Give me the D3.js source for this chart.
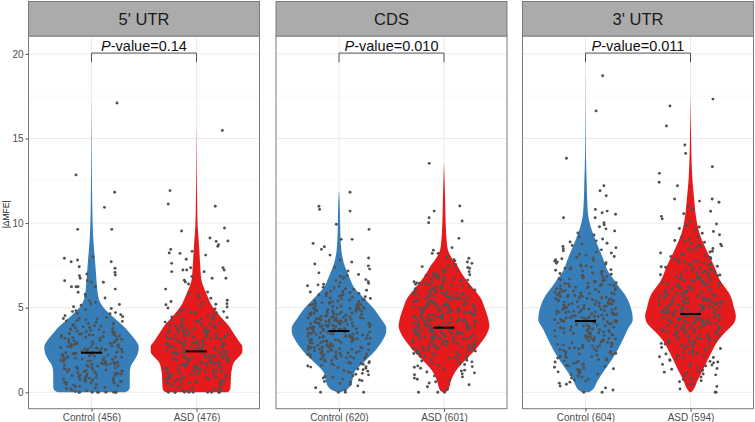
<!DOCTYPE html>
<html>
<head>
<meta charset="utf-8">
<script src="https://cdn.jsdelivr.net/npm/d3@7"></script>
<style>
  body { margin: 0; background: #fff; }
  svg { display: block; font-family: "Liberation Sans", Arial, Helvetica, sans-serif; }
</style>
</head>
<body>
<svg id="chart" width="755" height="422"></svg>
<script>
// facets and groups
const regions = ["5' UTR", 'CDS', "3' UTR"]
const groupLabels = [
  ['Control (456)', 'ASD (476)'],
  ['Control (620)', 'ASD (601)'],
  ['Control (604)', 'ASD (594)']
]
const pValues = ['0.14', '0.010', '0.011']
const medians = [[2.34, 2.42], [3.62, 3.82], [4.21, 4.63]]
const yTicks = [0, 5, 10, 15, 20]

// violin outlines: [|dMFE|, relative density]
const densCtrl5 = [[0,0.72],[0.1,0.78],[0.3,0.81],[1.2,0.81],[1.6,0.84],[2.0,0.93],[2.4,0.99],[2.7,1.0],[3.0,0.95],[3.3,0.87],[3.6,0.78],[3.9,0.68],[4.2,0.56],[4.5,0.44],[4.8,0.32],[5.1,0.23],[5.4,0.17],[5.8,0.135],[6.3,0.115],[6.8,0.1],[7.4,0.085],[8.0,0.068],[8.6,0.05],[9.5,0.03],[10.5,0.02],[12,0.012],[13.5,0.007],[15,0.004],[17.1,0.001]]
const densAsd5 = [[0,0.66],[0.1,0.7],[0.3,0.72],[1.0,0.73],[1.4,0.75],[1.8,0.8],[2.1,0.9],[2.4,0.97],[2.7,0.97],[3.0,0.9],[3.3,0.83],[3.6,0.76],[3.9,0.69],[4.2,0.6],[4.5,0.5],[4.8,0.41],[5.1,0.33],[5.5,0.26],[5.9,0.2],[6.3,0.14],[6.7,0.1],[7.2,0.085],[8.0,0.068],[8.6,0.055],[9.2,0.04],[9.8,0.025],[11,0.015],[12.5,0.008],[14,0.004],[15.5,0.001]]
const densCtrlCds = [[0,0.04],[0.1,0.13],[0.3,0.22],[0.6,0.27],[0.9,0.3],[1.2,0.33],[1.5,0.42],[1.9,0.57],[2.5,0.78],[3.1,0.93],[3.6,1.0],[3.8,1.0],[4.3,0.9],[5.0,0.72],[5.5,0.55],[5.8,0.45],[6.2,0.32],[6.6,0.25],[7.0,0.19],[7.4,0.13],[7.9,0.08],[8.4,0.05],[9.5,0.028],[10.4,0.022],[11.2,0.014],[11.86,0.003]]
const densAsdCds = [[0,0.03],[0.1,0.08],[0.7,0.15],[1.3,0.26],[1.9,0.45],[2.5,0.66],[3.1,0.83],[3.6,0.93],[3.9,0.96],[4.3,0.94],[5.0,0.86],[5.5,0.79],[6.0,0.66],[6.5,0.51],[7.0,0.38],[7.4,0.3],[8.0,0.15],[8.4,0.085],[9,0.055],[10,0.035],[11.2,0.025],[12.5,0.012],[13.5,0.002]]
const densCtrl3 = [[0,0.08],[0.1,0.13],[0.7,0.26],[1.3,0.4],[1.9,0.55],[2.5,0.68],[3.1,0.79],[3.7,0.89],[4.3,1.0],[5.0,0.96],[5.8,0.83],[6.2,0.72],[6.6,0.62],[7.0,0.51],[8.0,0.36],[9.0,0.21],[9.6,0.13],[10.4,0.06],[11.4,0.035],[12.4,0.025],[14,0.01],[15.5,0.005],[18.7,0.001]]
const densAsd3 = [[0,0.02],[0.1,0.05],[0.7,0.15],[1.3,0.26],[1.9,0.36],[2.5,0.47],[3.0,0.57],[3.5,0.72],[4.2,0.94],[4.5,0.96],[5.0,0.92],[5.8,0.83],[6.24,0.72],[6.6,0.63],[7.4,0.51],[8.4,0.34],[9.4,0.19],[10.4,0.115],[11.5,0.075],[12.4,0.045],[13.5,0.025],[14.3,0.017],[15.8,0.008],[17.3,0.001]]

// jittered points (|dMFE| values)
const ptsCtrl5 = [0,0,0,0,0,0,0,0,0,0.04,0.13,0.19,0.22,0.28,0.31,0.35,0.39,0.42,0.46,0.09,0.26,0.48,
  0.53,0.57,0.6,0.64,0.67,0.71,0.73,0.78,0.8,0.84,0.87,0.91,0.94,0.99,0.55,0.62,0.69,0.76,0.82,0.89,0.96,0.65,
  1.01,1.05,1.08,1.13,1.16,1.21,1.24,1.28,1.32,1.35,1.39,1.43,1.46,1.03,1.11,1.18,1.26,1.34,1.41,1.48,1.07,1.22,1.37,
  1.52,1.55,1.59,1.62,1.64,1.67,1.7,1.73,1.76,1.78,1.81,1.84,1.86,1.89,1.92,1.95,1.98,1.54,1.61,1.69,1.75,1.83,1.91,1.97,1.66,
  2.02,2.05,2.08,2.11,2.13,2.16,2.19,2.22,2.25,2.28,2.31,2.34,2.36,2.39,2.42,2.45,2.47,2.5,2.04,2.12,2.2,2.29,2.37,2.44,2.09,2.27,
  2.53,2.56,2.59,2.62,2.65,2.68,2.71,2.74,2.77,2.8,2.83,2.86,2.89,2.92,2.95,2.98,2.55,2.61,2.7,2.79,2.87,2.94,2.58,2.66,2.82,2.97,
  3.03,3.07,3.11,3.14,3.18,3.22,3.25,3.29,3.32,3.36,3.39,3.43,3.46,3.5,3.05,3.16,3.27,3.38,3.48,3.2,3.34,3.41,
  3.54,3.58,3.63,3.67,3.71,3.75,3.79,3.83,3.87,3.91,3.95,3.99,3.56,3.69,3.81,3.93,3.61,
  4.03,4.08,4.14,4.19,4.24,4.29,4.33,4.38,4.42,4.47,4.06,4.21,4.36,
  4.53,4.59,4.64,4.71,4.77,4.83,4.89,4.95,4.67,5.06,5.15,5.23,5.32,5.41,5.19,5.57,5.69,5.8,5.91,
  6.1,6.24,6.24,6.24,6.24,6.5,6.5,6.6,6.6,6.74,6.89,6.93,6.99,7.09,7.33,7.42,7.72,7.72,7.82,7.92,8.01,9.63,9.63,10.93,11.82,12.85,17.1]
const ptsAsd5 = [0,0,0,0,0,0,0,0,0,0,0.06,0.14,0.2,0.27,0.32,0.37,0.43,0.49,0.1,0.24,
  0.52,0.56,0.61,0.63,0.68,0.7,0.74,0.79,0.81,0.85,0.88,0.92,0.95,0.98,0.54,0.66,0.72,0.83,0.9,0.59,0.77,
  1.02,1.06,1.1,1.14,1.17,1.2,1.25,1.29,1.31,1.36,1.38,1.42,1.45,1.49,1.04,1.12,1.22,1.33,1.4,1.47,1.08,1.27,
  1.51,1.55,1.58,1.6,1.64,1.67,1.71,1.74,1.77,1.8,1.83,1.85,1.88,1.91,1.94,1.97,1.99,1.53,1.62,1.69,1.78,1.86,1.93,1.65,
  2.01,2.04,2.07,2.1,2.14,2.17,2.2,2.23,2.26,2.29,2.32,2.35,2.38,2.41,2.43,2.46,2.49,2.03,2.12,2.21,2.3,2.37,2.45,2.08,2.18,2.33,
  2.51,2.54,2.57,2.6,2.63,2.66,2.69,2.72,2.75,2.78,2.81,2.84,2.87,2.9,2.93,2.96,2.99,2.53,2.62,2.71,2.8,2.88,2.95,2.58,2.74,2.91,
  3.02,3.06,3.09,3.13,3.16,3.2,3.23,3.27,3.3,3.34,3.37,3.41,3.44,3.48,3.04,3.12,3.22,3.31,3.4,3.47,3.18,3.26,3.36,
  3.52,3.56,3.59,3.63,3.66,3.7,3.73,3.77,3.81,3.84,3.88,3.91,3.95,3.98,3.54,3.65,3.75,3.86,3.94,3.61,
  4.02,4.06,4.11,4.15,4.2,4.24,4.28,4.33,4.37,4.42,4.46,4.04,4.18,4.31,4.44,
  4.52,4.57,4.62,4.67,4.72,4.77,4.82,4.88,4.93,4.98,4.7,5.04,5.11,5.17,5.24,5.3,5.37,5.44,5.2,5.56,5.65,5.74,5.83,5.93,
  6.1,6.4,6.52,6.62,6.74,6.74,6.85,7.13,7.13,7.23,7.23,7.23,7.36,7.36,7.62,7.86,8.11,8.21,8.23,8.33,8.45,8.63,8.73,8.92,8.94,9.12,9.53,9.71,11.0,11.13,11.92,15.48]
const ptsCtrlCds = [0,0,0,0,0.12,0.27,0.38,0.46,0.53,0.58,0.64,0.69,0.73,0.78,0.84,0.89,0.93,0.98,
  1.03,1.07,1.12,1.16,1.21,1.25,1.29,1.33,1.38,1.42,1.46,1.49,
  1.52,1.55,1.58,1.62,1.65,1.68,1.72,1.75,1.78,1.81,1.84,1.87,1.9,1.93,1.96,1.99,1.7,
  2.01,2.04,2.07,2.1,2.12,2.15,2.18,2.21,2.24,2.27,2.29,2.32,2.35,2.38,2.4,2.43,2.46,2.49,2.03,2.14,2.23,2.31,2.42,2.09,
  2.51,2.53,2.55,2.58,2.6,2.62,2.65,2.67,2.69,2.72,2.74,2.76,2.79,2.81,2.83,2.86,2.88,2.9,2.93,2.95,2.97,2.99,2.57,2.64,2.71,2.78,2.85,2.92,2.54,2.68,
  3.01,3.03,3.05,3.07,3.09,3.11,3.13,3.15,3.17,3.19,3.21,3.23,3.25,3.27,3.29,3.31,3.33,3.35,3.37,3.39,3.41,3.43,3.45,3.47,3.49,3.02,3.08,3.14,3.2,3.26,3.32,3.38,3.44,3.5,3.12,
  3.51,3.53,3.55,3.57,3.59,3.61,3.63,3.65,3.67,3.69,3.71,3.73,3.75,3.77,3.79,3.81,3.83,3.85,3.87,3.89,3.91,3.93,3.95,3.97,3.99,3.52,3.58,3.64,3.7,3.76,3.82,3.88,3.94,3.56,3.74,3.9,
  4.01,4.03,4.05,4.07,4.09,4.11,4.13,4.15,4.17,4.19,4.21,4.23,4.25,4.27,4.29,4.31,4.33,4.35,4.37,4.39,4.41,4.43,4.45,4.47,4.49,4.04,4.12,4.2,4.28,4.36,4.44,4.08,4.32,
  4.51,4.53,4.55,4.58,4.6,4.62,4.65,4.67,4.69,4.72,4.74,4.76,4.79,4.81,4.83,4.86,4.88,4.9,4.93,4.95,4.97,4.99,4.56,4.63,4.7,4.77,4.84,4.91,4.98,
  5.02,5.04,5.07,5.1,5.12,5.15,5.18,5.21,5.23,5.26,5.29,5.31,5.34,5.37,5.4,5.42,5.45,5.48,5.06,5.17,5.28,5.39,5.47,
  5.52,5.55,5.58,5.62,5.65,5.68,5.72,5.75,5.78,5.81,5.84,5.87,5.9,5.93,5.96,5.99,5.7,
  6.03,6.08,6.12,6.17,6.21,6.26,6.3,6.35,6.39,6.44,6.48,6.54,6.6,6.66,6.72,6.78,6.84,6.9,6.96,
  7.06,7.17,7.28,7.39,7.47,7.58,7.7,7.82,7.94,
  8.11,8.45,8.6,8.8,9.04,9.04,9.63,9.93,10.71,10.81,11.0,11.82]
const ptsAsdCds = [0,0,0,0.18,0.33,0.45,0.55,0.62,0.7,0.77,0.84,0.91,0.97,
  1.04,1.09,1.15,1.2,1.26,1.31,1.37,1.42,1.48,1.52,1.56,1.6,1.64,1.68,1.72,1.76,1.8,1.85,1.89,1.93,1.97,
  2.02,2.05,2.08,2.11,2.14,2.17,2.2,2.23,2.26,2.29,2.32,2.35,2.38,2.41,2.44,2.47,2.5,2.13,
  2.52,2.54,2.56,2.59,2.61,2.63,2.66,2.68,2.7,2.73,2.75,2.77,2.8,2.82,2.84,2.87,2.89,2.91,2.94,2.96,2.98,2.6,2.72,2.86,
  3.01,3.03,3.05,3.07,3.09,3.11,3.13,3.15,3.17,3.19,3.21,3.23,3.25,3.27,3.29,3.31,3.33,3.35,3.37,3.39,3.41,3.43,3.45,3.47,3.49,3.1,3.24,3.38,
  3.51,3.53,3.55,3.57,3.59,3.61,3.63,3.65,3.67,3.69,3.71,3.73,3.75,3.77,3.79,3.81,3.83,3.85,3.87,3.89,3.91,3.93,3.95,3.97,3.99,3.52,3.6,3.68,3.76,3.84,3.92,
  4.01,4.03,4.05,4.07,4.09,4.11,4.13,4.15,4.17,4.19,4.21,4.23,4.25,4.27,4.29,4.31,4.33,4.35,4.37,4.39,4.41,4.43,4.45,4.47,4.49,4.04,4.12,4.2,4.28,4.36,4.44,
  4.51,4.53,4.55,4.57,4.59,4.61,4.63,4.65,4.67,4.69,4.71,4.73,4.75,4.77,4.79,4.81,4.83,4.85,4.87,4.89,4.91,4.93,4.95,4.97,4.99,4.58,4.7,4.86,
  5.01,5.03,5.05,5.07,5.09,5.11,5.13,5.15,5.17,5.19,5.21,5.23,5.25,5.27,5.29,5.31,5.33,5.35,5.37,5.39,5.41,5.43,5.45,5.47,5.49,5.2,
  5.52,5.54,5.56,5.58,5.6,5.62,5.64,5.66,5.68,5.7,5.72,5.74,5.76,5.78,5.8,5.82,5.84,5.86,5.88,5.9,5.92,5.94,5.96,5.98,
  6.02,6.05,6.07,6.1,6.13,6.15,6.18,6.21,6.23,6.26,6.29,6.31,6.34,6.37,6.39,6.42,6.45,6.47,6.5,
  6.53,6.56,6.6,6.63,6.66,6.69,6.72,6.76,6.79,6.82,6.85,6.88,6.92,6.95,6.98,
  7.03,7.08,7.13,7.18,7.23,7.28,7.33,7.38,7.43,7.48,7.55,7.62,7.7,7.77,7.84,7.92,7.98,
  8.21,8.21,8.4,8.55,9.1,10.02,10.12,10.32,10.71,11.01,13.53]
const ptsCtrl3 = [0,0,0.14,0.26,0.37,0.48,0.54,0.6,0.66,0.72,0.78,0.84,0.9,0.96,
  1.03,1.08,1.12,1.17,1.21,1.26,1.3,1.35,1.39,1.44,1.48,
  1.52,1.56,1.6,1.63,1.67,1.71,1.75,1.79,1.83,1.86,1.9,1.94,1.98,
  2.02,2.05,2.08,2.11,2.14,2.17,2.2,2.23,2.26,2.29,2.32,2.35,2.38,2.41,2.44,2.48,
  2.52,2.55,2.57,2.6,2.62,2.65,2.67,2.7,2.73,2.75,2.78,2.8,2.83,2.85,2.88,2.9,2.93,2.95,2.98,
  3.01,3.04,3.06,3.08,3.11,3.13,3.15,3.18,3.2,3.22,3.25,3.27,3.29,3.32,3.34,3.36,3.39,3.41,3.43,3.46,3.48,
  3.51,3.53,3.55,3.57,3.59,3.62,3.64,3.66,3.68,3.7,3.72,3.74,3.77,3.79,3.81,3.83,3.85,3.87,3.89,3.92,3.94,3.96,3.98,
  4.01,4.03,4.05,4.07,4.09,4.11,4.13,4.15,4.17,4.19,4.21,4.23,4.25,4.27,4.29,4.31,4.33,4.35,4.37,4.39,4.41,4.43,4.45,4.47,4.49,4.22,
  4.51,4.53,4.55,4.57,4.59,4.61,4.63,4.65,4.67,4.69,4.71,4.73,4.75,4.77,4.79,4.81,4.83,4.85,4.87,4.89,4.91,4.93,4.95,4.97,4.99,4.74,
  5.01,5.03,5.05,5.07,5.09,5.11,5.13,5.15,5.17,5.19,5.21,5.23,5.25,5.27,5.29,5.31,5.33,5.35,5.37,5.39,5.41,5.43,5.45,5.47,5.49,
  5.51,5.53,5.55,5.57,5.59,5.62,5.64,5.66,5.68,5.7,5.72,5.74,5.77,5.79,5.81,5.83,5.85,5.87,5.89,5.92,5.94,5.96,5.98,
  6.02,6.05,6.07,6.1,6.12,6.15,6.17,6.2,6.23,6.25,6.28,6.3,6.33,6.35,6.38,6.4,6.43,6.45,6.48,
  6.53,6.56,6.6,6.63,6.66,6.69,6.72,6.76,6.79,6.82,6.85,6.88,6.92,6.95,6.98,
  7.02,7.06,7.1,7.14,7.17,7.21,7.25,7.29,7.33,7.37,7.4,7.44,7.48,
  7.53,7.57,7.62,7.66,7.71,7.75,7.8,7.84,7.89,7.93,7.98,
  8.03,8.1,8.16,8.23,8.29,8.36,8.42,8.49,8.55,8.62,8.68,8.75,8.81,8.88,8.95,
  9.06,9.18,9.3,9.42,9.54,9.66,9.78,9.9,
  10.02,10.32,10.32,10.52,10.61,10.71,10.81,11.62,11.91,12.21,13.83,16.63,18.71]
const ptsAsd3 = [0,0,0.2,0.35,0.47,0.55,0.62,0.69,0.76,0.83,0.9,0.97,
  1.03,1.08,1.14,1.19,1.25,1.3,1.36,1.41,1.47,1.52,1.56,1.61,1.65,1.7,1.74,1.79,1.83,1.88,1.92,1.97,
  2.02,2.06,2.1,2.14,2.18,2.22,2.26,2.3,2.34,2.38,2.42,2.47,
  2.52,2.55,2.59,2.62,2.65,2.69,2.72,2.75,2.79,2.82,2.85,2.89,2.92,2.95,2.99,
  3.02,3.05,3.08,3.1,3.13,3.16,3.19,3.22,3.24,3.27,3.3,3.33,3.36,3.38,3.41,3.44,3.47,3.49,
  3.51,3.53,3.56,3.58,3.6,3.62,3.65,3.67,3.69,3.71,3.74,3.76,3.78,3.8,3.83,3.85,3.87,3.89,3.92,3.94,3.96,3.98,
  4.01,4.03,4.05,4.07,4.09,4.11,4.13,4.15,4.17,4.19,4.21,4.23,4.25,4.27,4.29,4.31,4.33,4.35,4.37,4.39,4.41,4.43,4.45,4.47,4.49,4.3,
  4.51,4.53,4.55,4.57,4.59,4.61,4.63,4.65,4.67,4.69,4.71,4.73,4.75,4.77,4.79,4.81,4.83,4.85,4.87,4.89,4.91,4.93,4.95,4.97,4.99,4.66,
  5.01,5.03,5.05,5.07,5.09,5.11,5.13,5.15,5.17,5.19,5.21,5.23,5.25,5.27,5.29,5.31,5.33,5.35,5.37,5.39,5.41,5.43,5.45,5.47,5.49,
  5.51,5.53,5.55,5.57,5.59,5.62,5.64,5.66,5.68,5.7,5.72,5.74,5.77,5.79,5.81,5.83,5.85,5.87,5.89,5.92,5.94,5.96,5.98,
  6.02,6.04,6.07,6.09,6.12,6.14,6.17,6.19,6.22,6.24,6.27,6.29,6.32,6.34,6.37,6.39,6.42,6.44,6.47,6.49,
  6.52,6.55,6.57,6.6,6.63,6.65,6.68,6.71,6.74,6.76,6.79,6.82,6.84,6.87,6.9,6.93,6.95,6.98,
  7.02,7.05,7.09,7.12,7.15,7.19,7.22,7.25,7.29,7.32,7.35,7.39,7.42,7.45,7.49,
  7.52,7.56,7.6,7.63,7.67,7.71,7.75,7.79,7.83,7.87,7.9,7.94,7.98,
  8.03,8.08,8.13,8.18,8.24,8.29,8.34,8.39,8.45,8.5,8.55,8.6,8.66,8.71,8.76,8.81,8.87,8.92,8.97,
  9.04,9.13,9.22,9.31,9.4,9.5,9.59,9.68,9.77,9.86,9.95,10.1,10.25,10.4,10.55,10.7,
  10.83,10.98,11.23,11.3,11.42,11.42,12.21,12.41,12.94,13.33,14.12,14.62,15.74,16.92,17.33]

const densities = [[densCtrl5, densAsd5], [densCtrlCds, densAsdCds], [densCtrl3, densAsd3]]
const points = [[ptsCtrl5, ptsAsd5], [ptsCtrlCds, ptsAsdCds], [ptsCtrl3, ptsAsd3]]
const fills = ['#377EB8', '#E41A1C']

const svg = d3.select('#chart')
const y = d3.scaleLinear().domain([0, 20]).range([392.3, 53.9])
const panelLeft = [28.5, 276, 522.5]
const panelW = 231
const panelTop = 36
const panelBottom = 408.7
const stripTop = 1.5

// seeded jitter so the page is the same on every load
const jitter = d3.randomUniform.source(d3.randomLcg(0.271))(-0.3, 0.3)

regions.forEach((region, i) => {
  const x = d3.scaleLinear().domain([0.4, 2.6]).range([panelLeft[i], panelLeft[i] + panelW])
  const g = svg.append('g')

  g.append('rect')
    .attr('x', panelLeft[i]).attr('y', panelTop)
    .attr('width', panelW).attr('height', panelBottom - panelTop)
    .attr('fill', '#fff')

  // grid
  g.selectAll('.minor').data([2.5, 7.5, 12.5, 17.5]).enter().append('line')
    .attr('x1', panelLeft[i]).attr('x2', panelLeft[i] + panelW)
    .attr('y1', d => y(d)).attr('y2', d => y(d))
    .attr('stroke', '#F3F3F3').attr('stroke-width', 0.6)
  g.selectAll('.major').data(yTicks).enter().append('line')
    .attr('x1', panelLeft[i]).attr('x2', panelLeft[i] + panelW)
    .attr('y1', d => y(d)).attr('y2', d => y(d))
    .attr('stroke', '#EBEBEB').attr('stroke-width', 1)
  g.selectAll('.vgrid').data([1, 2]).enter().append('line')
    .attr('x1', d => x(d)).attr('x2', d => x(d))
    .attr('y1', panelTop).attr('y2', panelBottom)
    .attr('stroke', '#EBEBEB').attr('stroke-width', 1)

  // violins
  densities[i].forEach((dens, j) => {
    const cx = j + 1
    const area = d3.area()
      .curve(d3.curveMonotoneY)
      .y(d => y(d[0]))
      .x0(d => x(cx - 0.45 * d[1]))
      .x1(d => x(cx + 0.45 * d[1]))
    g.append('path')
      .datum(dens)
      .attr('d', area)
      .attr('fill', fills[j])
  })

  // jittered points
  points[i].forEach((vals, j) => {
    const cx = j + 1
    g.selectAll('.pt' + j).data(vals).enter().append('circle')
      .attr('cx', () => x(cx + jitter()))
      .attr('cy', d => y(d))
      .attr('r', 1.45)
      .attr('fill', '#505050')
  })

  // medians
  g.selectAll('.med').data(medians[i]).enter().append('line')
    .attr('x1', (d, j) => x(j + 1 - 0.1)).attr('x2', (d, j) => x(j + 1 + 0.1))
    .attr('y1', d => y(d)).attr('y2', d => y(d))
    .attr('stroke', '#000').attr('stroke-width', 2)

  // panel border
  g.append('rect')
    .attr('x', panelLeft[i]).attr('y', panelTop)
    .attr('width', panelW).attr('height', panelBottom - panelTop)
    .attr('fill', 'none').attr('stroke', '#7a7a7a').attr('stroke-width', 1)

  // strip
  g.append('rect')
    .attr('x', panelLeft[i]).attr('y', stripTop)
    .attr('width', panelW).attr('height', panelTop - stripTop)
    .attr('fill', '#ABABAB').attr('stroke', '#7a7a7a').attr('stroke-width', 1)
  g.append('text')
    .attr('x', panelLeft[i] + panelW / 2).attr('y', 25)
    .attr('text-anchor', 'middle')
    .attr('font-size', 16.5).attr('fill', '#1a1a1a')
    .text(region)

  // significance bracket
  const top = y(20.05)
  const leg = y(19.5)
  g.append('path')
    .attr('d', `M${x(1)},${leg}V${top}H${x(2)}V${leg}`)
    .attr('fill', 'none').attr('stroke', '#555').attr('stroke-width', 1)
  const pt = g.append('text')
    .attr('x', x(1.5)).attr('y', 50.5)
    .attr('text-anchor', 'middle')
    .attr('font-size', 14.5).attr('fill', '#111')
  pt.append('tspan').attr('font-style', 'italic').text('P')
  pt.append('tspan').text('-value=' + pValues[i])

  // x axis
  const xb = d3.scalePoint().domain(groupLabels[i]).range([x(1), x(2)])
  const ax = g.append('g')
    .attr('transform', `translate(0,${panelBottom})`)
    .call(d3.axisBottom(xb).tickSize(3).tickPadding(2))
  ax.select('.domain').remove()
  ax.selectAll('line').attr('stroke', '#555')
  ax.selectAll('text').attr('fill', '#4d4d4d').attr('font-size', 10)
    .attr('font-family', '"Liberation Sans", Arial, sans-serif')
})

// y axis on the first panel
const ay = svg.append('g')
  .attr('transform', `translate(${panelLeft[0]},0)`)
  .call(d3.axisLeft(y).tickValues(yTicks).tickSize(3).tickPadding(2))
ay.select('.domain').remove()
ay.selectAll('line').attr('stroke', '#555')
ay.selectAll('text').attr('fill', '#4d4d4d').attr('font-size', 10)
  .attr('font-family', '"Liberation Sans", Arial, sans-serif')

svg.append('text')
  .attr('transform', `translate(9,${(panelTop + panelBottom) / 2 - 8}) rotate(-90)`)
  .attr('text-anchor', 'middle')
  .attr('font-size', 8.5).attr('fill', '#1a1a1a')
  .text('|ΔMFE|')
</script>
</body>
</html>
